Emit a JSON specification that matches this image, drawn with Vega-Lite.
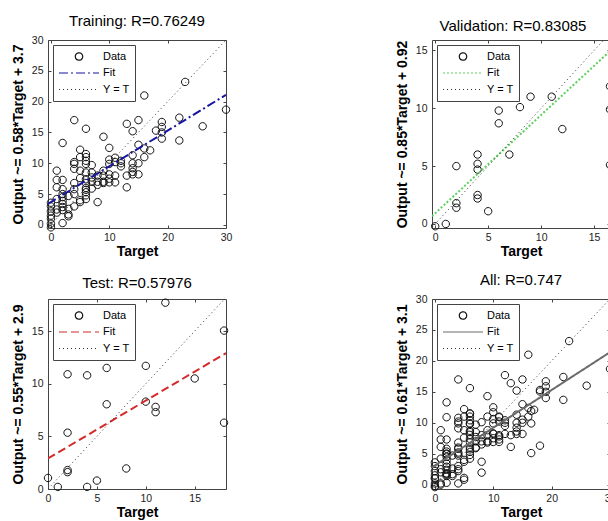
{
  "$schema": "https://vega.github.io/schema/vega-lite/v6.json",
  "background": "white",
  "padding": {"left": 10, "top": 13, "right": 0, "bottom": 0},
  "columns": 2,
  "bounds": "flush",
  "spacing": {"row": 71, "column": 206},
  "datasets": {
    "train": [
      {"t":0,"o":-0.4,"series":"Data"},{"t":0,"o":0.2,"series":"Data"},{"t":0,"o":1.0,"series":"Data"},{"t":0,"o":1.5,"series":"Data"},{"t":0,"o":2.2,"series":"Data"},{"t":0,"o":3.0,"series":"Data"},{"t":0,"o":3.6,"series":"Data"},
      {"t":1,"o":2.0,"series":"Data"},{"t":1,"o":2.5,"series":"Data"},{"t":1,"o":4.2,"series":"Data"},{"t":1,"o":6.1,"series":"Data"},{"t":1,"o":7.3,"series":"Data"},{"t":1,"o":8.8,"series":"Data"},
      {"t":2,"o":0.3,"series":"Data"},{"t":2,"o":2.4,"series":"Data"},{"t":2,"o":2.9,"series":"Data"},{"t":2,"o":3.4,"series":"Data"},{"t":2,"o":3.9,"series":"Data"},{"t":2,"o":4.5,"series":"Data"},{"t":2,"o":5.0,"series":"Data"},{"t":2,"o":5.8,"series":"Data"},{"t":2,"o":7.3,"series":"Data"},{"t":2,"o":13.3,"series":"Data"},
      {"t":3,"o":1.4,"series":"Data"},{"t":3,"o":1.7,"series":"Data"},{"t":3,"o":2.6,"series":"Data"},{"t":3,"o":4.7,"series":"Data"},
      {"t":4,"o":3.0,"series":"Data"},{"t":4,"o":5.0,"series":"Data"},{"t":4,"o":5.8,"series":"Data"},{"t":4,"o":6.8,"series":"Data"},{"t":4,"o":9.1,"series":"Data"},{"t":4,"o":9.9,"series":"Data"},{"t":4,"o":10.2,"series":"Data"},{"t":4,"o":17.0,"series":"Data"},
      {"t":5,"o":3.7,"series":"Data"},{"t":5,"o":4.0,"series":"Data"},{"t":5,"o":7.6,"series":"Data"},{"t":5,"o":8.8,"series":"Data"},{"t":5,"o":11.0,"series":"Data"},{"t":5,"o":12.2,"series":"Data"},
      {"t":6,"o":4.2,"series":"Data"},{"t":6,"o":4.8,"series":"Data"},{"t":6,"o":5.3,"series":"Data"},{"t":6,"o":5.7,"series":"Data"},{"t":6,"o":6.0,"series":"Data"},{"t":6,"o":6.8,"series":"Data"},{"t":6,"o":7.4,"series":"Data"},{"t":6,"o":8.5,"series":"Data"},{"t":6,"o":9.9,"series":"Data"},{"t":6,"o":10.4,"series":"Data"},{"t":6,"o":11.0,"series":"Data"},{"t":6,"o":11.5,"series":"Data"},{"t":6,"o":15.6,"series":"Data"},
      {"t":7,"o":5.9,"series":"Data"},{"t":7,"o":7.0,"series":"Data"},{"t":7,"o":7.7,"series":"Data"},{"t":7,"o":8.5,"series":"Data"},{"t":7,"o":9.7,"series":"Data"},
      {"t":8,"o":3.7,"series":"Data"},{"t":8,"o":6.5,"series":"Data"},{"t":8,"o":7.0,"series":"Data"},{"t":8,"o":8.0,"series":"Data"},
      {"t":9,"o":6.8,"series":"Data"},{"t":9,"o":7.0,"series":"Data"},{"t":9,"o":8.0,"series":"Data"},{"t":9,"o":8.8,"series":"Data"},{"t":9,"o":14.3,"series":"Data"},
      {"t":10,"o":6.9,"series":"Data"},{"t":10,"o":7.5,"series":"Data"},{"t":10,"o":8.2,"series":"Data"},{"t":10,"o":9.9,"series":"Data"},{"t":10,"o":10.6,"series":"Data"},{"t":10,"o":12.5,"series":"Data"},
      {"t":11,"o":6.9,"series":"Data"},{"t":11,"o":8.0,"series":"Data"},{"t":11,"o":10.2,"series":"Data"},{"t":11,"o":10.9,"series":"Data"},
      {"t":12,"o":9.5,"series":"Data"},{"t":12,"o":10.0,"series":"Data"},{"t":12,"o":10.4,"series":"Data"},
      {"t":13,"o":6.1,"series":"Data"},{"t":13,"o":8.0,"series":"Data"},{"t":13,"o":16.4,"series":"Data"},
      {"t":14,"o":8.2,"series":"Data"},{"t":14,"o":8.6,"series":"Data"},{"t":14,"o":9.2,"series":"Data"},{"t":14,"o":10.0,"series":"Data"},{"t":14,"o":11.3,"series":"Data"},{"t":14,"o":15.2,"series":"Data"},
      {"t":15,"o":8.2,"series":"Data"},{"t":15,"o":10.0,"series":"Data"},{"t":15,"o":13.0,"series":"Data"},{"t":15,"o":17.0,"series":"Data"},
      {"t":16,"o":11.0,"series":"Data"},{"t":16,"o":12.4,"series":"Data"},{"t":16,"o":21.0,"series":"Data"},
      {"t":17,"o":12.1,"series":"Data"},{"t":18,"o":15.3,"series":"Data"},
      {"t":19,"o":14.0,"series":"Data"},{"t":19,"o":15.0,"series":"Data"},{"t":19,"o":15.9,"series":"Data"},{"t":19,"o":16.7,"series":"Data"},
      {"t":22,"o":13.7,"series":"Data"},{"t":22,"o":17.4,"series":"Data"},{"t":23,"o":23.2,"series":"Data"},{"t":26,"o":16.0,"series":"Data"},{"t":30,"o":18.7,"series":"Data"},
      {"t":-0.5,"o":3.41,"series":"Fit"},{"t":30,"o":21.1,"series":"Fit"},
      {"t":-0.5,"o":-0.5,"series":"Y = T"},{"t":30,"o":30,"series":"Y = T"}
    ],
    "val": [
      {"t":0,"o":-0.2,"series":"Data"},{"t":1,"o":0.0,"series":"Data"},{"t":2,"o":5.0,"series":"Data"},{"t":2,"o":1.8,"series":"Data"},{"t":2,"o":1.4,"series":"Data"},
      {"t":4,"o":6.0,"series":"Data"},{"t":4,"o":5.2,"series":"Data"},{"t":4,"o":4.7,"series":"Data"},{"t":4,"o":2.5,"series":"Data"},{"t":4,"o":2.2,"series":"Data"},
      {"t":5,"o":1.1,"series":"Data"},{"t":6,"o":9.8,"series":"Data"},{"t":6,"o":8.7,"series":"Data"},{"t":7,"o":6.0,"series":"Data"},{"t":8,"o":10.1,"series":"Data"},
      {"t":9,"o":11.0,"series":"Data"},{"t":11,"o":11.0,"series":"Data"},{"t":12,"o":8.2,"series":"Data"},
      {"t":16.5,"o":11.9,"series":"Data"},{"t":16.5,"o":9.9,"series":"Data"},{"t":16.5,"o":5.1,"series":"Data"},
      {"t":-0.3,"o":0.665,"series":"Fit"},{"t":16.5,"o":14.945,"series":"Fit"},
      {"t":-0.3,"o":-0.3,"series":"Y = T"},{"t":16.5,"o":16.5,"series":"Y = T"}
    ],
    "test": [
      {"t":0,"o":1.05,"series":"Data"},{"t":1,"o":0.2,"series":"Data"},{"t":2,"o":10.9,"series":"Data"},{"t":2,"o":5.35,"series":"Data"},{"t":2,"o":1.8,"series":"Data"},{"t":2,"o":1.6,"series":"Data"},
      {"t":4,"o":10.8,"series":"Data"},{"t":4,"o":0.2,"series":"Data"},{"t":5,"o":0.8,"series":"Data"},{"t":6,"o":11.5,"series":"Data"},{"t":6,"o":8.05,"series":"Data"},
      {"t":8,"o":1.95,"series":"Data"},{"t":10,"o":11.7,"series":"Data"},{"t":10,"o":8.3,"series":"Data"},{"t":11,"o":7.8,"series":"Data"},{"t":11,"o":7.3,"series":"Data"},
      {"t":12,"o":17.7,"series":"Data"},{"t":15,"o":10.5,"series":"Data"},{"t":18,"o":15.05,"series":"Data"},{"t":18,"o":6.3,"series":"Data"},
      {"t":0,"o":2.9,"series":"Fit"},{"t":18.2,"o":12.91,"series":"Fit"},
      {"t":0,"o":0,"series":"Y = T"},{"t":18.2,"o":18.2,"series":"Y = T"}
    ],
    "all": [
      {"t":0,"o":-0.4,"series":"Data"},{"t":0,"o":0.2,"series":"Data"},{"t":0,"o":1.0,"series":"Data"},{"t":0,"o":1.5,"series":"Data"},{"t":0,"o":2.2,"series":"Data"},{"t":0,"o":3.0,"series":"Data"},{"t":0,"o":3.6,"series":"Data"},
      {"t":1,"o":2.0,"series":"Data"},{"t":1,"o":2.5,"series":"Data"},{"t":1,"o":4.2,"series":"Data"},{"t":1,"o":6.1,"series":"Data"},{"t":1,"o":7.3,"series":"Data"},{"t":1,"o":8.8,"series":"Data"},
      {"t":2,"o":0.3,"series":"Data"},{"t":2,"o":2.4,"series":"Data"},{"t":2,"o":2.9,"series":"Data"},{"t":2,"o":3.4,"series":"Data"},{"t":2,"o":3.9,"series":"Data"},{"t":2,"o":4.5,"series":"Data"},{"t":2,"o":5.0,"series":"Data"},{"t":2,"o":5.8,"series":"Data"},{"t":2,"o":7.3,"series":"Data"},{"t":2,"o":13.3,"series":"Data"},
      {"t":3,"o":1.4,"series":"Data"},{"t":3,"o":1.7,"series":"Data"},{"t":3,"o":2.6,"series":"Data"},{"t":3,"o":4.7,"series":"Data"},
      {"t":4,"o":3.0,"series":"Data"},{"t":4,"o":5.0,"series":"Data"},{"t":4,"o":5.8,"series":"Data"},{"t":4,"o":6.8,"series":"Data"},{"t":4,"o":9.1,"series":"Data"},{"t":4,"o":9.9,"series":"Data"},{"t":4,"o":10.2,"series":"Data"},{"t":4,"o":17.0,"series":"Data"},
      {"t":5,"o":3.7,"series":"Data"},{"t":5,"o":4.0,"series":"Data"},{"t":5,"o":7.6,"series":"Data"},{"t":5,"o":8.8,"series":"Data"},{"t":5,"o":11.0,"series":"Data"},{"t":5,"o":12.2,"series":"Data"},
      {"t":6,"o":4.2,"series":"Data"},{"t":6,"o":4.8,"series":"Data"},{"t":6,"o":5.3,"series":"Data"},{"t":6,"o":5.7,"series":"Data"},{"t":6,"o":6.0,"series":"Data"},{"t":6,"o":6.8,"series":"Data"},{"t":6,"o":7.4,"series":"Data"},{"t":6,"o":8.5,"series":"Data"},{"t":6,"o":9.9,"series":"Data"},{"t":6,"o":10.4,"series":"Data"},{"t":6,"o":11.0,"series":"Data"},{"t":6,"o":11.5,"series":"Data"},{"t":6,"o":15.6,"series":"Data"},
      {"t":7,"o":5.9,"series":"Data"},{"t":7,"o":7.0,"series":"Data"},{"t":7,"o":7.7,"series":"Data"},{"t":7,"o":8.5,"series":"Data"},{"t":7,"o":9.7,"series":"Data"},
      {"t":8,"o":3.7,"series":"Data"},{"t":8,"o":6.5,"series":"Data"},{"t":8,"o":7.0,"series":"Data"},{"t":8,"o":8.0,"series":"Data"},
      {"t":9,"o":6.8,"series":"Data"},{"t":9,"o":7.0,"series":"Data"},{"t":9,"o":8.0,"series":"Data"},{"t":9,"o":8.8,"series":"Data"},{"t":9,"o":14.3,"series":"Data"},
      {"t":10,"o":6.9,"series":"Data"},{"t":10,"o":7.5,"series":"Data"},{"t":10,"o":8.2,"series":"Data"},{"t":10,"o":9.9,"series":"Data"},{"t":10,"o":10.6,"series":"Data"},{"t":10,"o":12.5,"series":"Data"},
      {"t":11,"o":6.9,"series":"Data"},{"t":11,"o":8.0,"series":"Data"},{"t":11,"o":10.2,"series":"Data"},{"t":11,"o":10.9,"series":"Data"},
      {"t":12,"o":9.5,"series":"Data"},{"t":12,"o":10.0,"series":"Data"},{"t":12,"o":10.4,"series":"Data"},
      {"t":13,"o":6.1,"series":"Data"},{"t":13,"o":8.0,"series":"Data"},{"t":13,"o":16.4,"series":"Data"},
      {"t":14,"o":8.2,"series":"Data"},{"t":14,"o":8.6,"series":"Data"},{"t":14,"o":9.2,"series":"Data"},{"t":14,"o":10.0,"series":"Data"},{"t":14,"o":11.3,"series":"Data"},{"t":14,"o":15.2,"series":"Data"},
      {"t":15,"o":8.2,"series":"Data"},{"t":15,"o":10.0,"series":"Data"},{"t":15,"o":13.0,"series":"Data"},{"t":15,"o":17.0,"series":"Data"},
      {"t":16,"o":11.0,"series":"Data"},{"t":16,"o":12.4,"series":"Data"},{"t":16,"o":21.0,"series":"Data"},
      {"t":17,"o":12.1,"series":"Data"},{"t":18,"o":15.3,"series":"Data"},
      {"t":19,"o":14.0,"series":"Data"},{"t":19,"o":15.0,"series":"Data"},{"t":19,"o":15.9,"series":"Data"},{"t":19,"o":16.7,"series":"Data"},
      {"t":22,"o":13.7,"series":"Data"},{"t":22,"o":17.4,"series":"Data"},{"t":23,"o":23.2,"series":"Data"},{"t":26,"o":16.0,"series":"Data"},{"t":30,"o":18.7,"series":"Data"},
      {"t":0,"o":-0.2,"series":"Data"},{"t":1,"o":0.0,"series":"Data"},{"t":2,"o":5.0,"series":"Data"},{"t":2,"o":1.8,"series":"Data"},{"t":2,"o":1.4,"series":"Data"},
      {"t":4,"o":6.0,"series":"Data"},{"t":4,"o":5.2,"series":"Data"},{"t":4,"o":4.7,"series":"Data"},{"t":4,"o":2.5,"series":"Data"},{"t":4,"o":2.2,"series":"Data"},
      {"t":5,"o":1.1,"series":"Data"},{"t":6,"o":9.8,"series":"Data"},{"t":6,"o":8.7,"series":"Data"},{"t":7,"o":6.0,"series":"Data"},{"t":8,"o":10.1,"series":"Data"},
      {"t":9,"o":11.0,"series":"Data"},{"t":11,"o":11.0,"series":"Data"},{"t":12,"o":8.2,"series":"Data"},
      {"t":16.5,"o":11.9,"series":"Data"},{"t":16.5,"o":9.9,"series":"Data"},{"t":16.5,"o":5.1,"series":"Data"},
      {"t":0,"o":1.05,"series":"Data"},{"t":1,"o":0.2,"series":"Data"},{"t":2,"o":10.9,"series":"Data"},{"t":2,"o":5.35,"series":"Data"},{"t":2,"o":1.8,"series":"Data"},{"t":2,"o":1.6,"series":"Data"},
      {"t":4,"o":10.8,"series":"Data"},{"t":4,"o":0.2,"series":"Data"},{"t":5,"o":0.8,"series":"Data"},{"t":6,"o":11.5,"series":"Data"},{"t":6,"o":8.05,"series":"Data"},
      {"t":8,"o":1.95,"series":"Data"},{"t":10,"o":11.7,"series":"Data"},{"t":10,"o":8.3,"series":"Data"},{"t":11,"o":7.8,"series":"Data"},{"t":11,"o":7.3,"series":"Data"},
      {"t":12,"o":17.7,"series":"Data"},{"t":15,"o":10.5,"series":"Data"},{"t":18,"o":15.05,"series":"Data"},{"t":18,"o":6.3,"series":"Data"},
      {"t":-0.5,"o":2.795,"series":"Fit"},{"t":30,"o":21.4,"series":"Fit"},
      {"t":-0.5,"o":-0.5,"series":"Y = T"},{"t":30,"o":30,"series":"Y = T"}
    ]
  },
  "concat": [
    {
      "width": 178, "height": 188,
      "title": {"text": "Training: R=0.76249"},
      "data": {"name": "train"},
      "resolve": {"axis": {"x": "independent", "y": "independent"}},
      "layer": [
        {
          "transform": [{"filter": "datum.series === 'Data'"}],
          "mark": {"type": "point", "filled": false, "size": 1600, "strokeWidth": 1, "opacity": 1},
          "encoding": {
            "x": {"field": "t", "type": "quantitative", "scale": {"domain": [-0.5, 30], "nice": false, "zero": false}, "axis": {"values": [0, 10, 20, 30], "title": "Target"}},
            "y": {"field": "o", "type": "quantitative", "scale": {"domain": [-0.5, 30], "nice": false, "zero": false}, "axis": {"values": [0, 5, 10, 15, 20, 25, 30], "title": "Output ~= 0.58*Target + 3.7"}},
            "color": {"field": "series", "type": "nominal", "scale": {"domain": ["Data", "Fit", "Y = T"], "range": ["#111111", "#1515a0", "#333333"]}, "legend": {"title": null}},
            "shape": {"field": "series", "type": "nominal", "scale": {"domain": ["Data", "Fit", "Y = T"], "range": ["M-0.185,0A0.185,0.185,0,1,1,0.185,0A0.185,0.185,0,1,1,-0.185,0Z", "stroke", "stroke"]}, "legend": {"title": null}}
          }
        },
        {
          "transform": [{"filter": "datum.series === 'Fit'"}],
          "mark": {"type": "line", "strokeWidth": 2, "clip": true},
          "encoding": {
            "x": {"field": "t", "type": "quantitative", "axis": null},
            "y": {"field": "o", "type": "quantitative", "axis": null},
            "color": {"field": "series", "type": "nominal", "scale": {"domain": ["Data", "Fit", "Y = T"], "range": ["#111111", "#1515a0", "#333333"]}, "legend": {"title": null}},
            "strokeDash": {"field": "series", "type": "nominal", "scale": {"domain": ["Data", "Fit", "Y = T"], "range": [[1, 0], [9, 3, 2, 3], [1, 3]]}, "legend": {"title": null}}
          }
        },
        {
          "transform": [{"filter": "datum.series === 'Y = T'"}],
          "mark": {"type": "line", "strokeWidth": 1, "clip": true},
          "encoding": {
            "x": {"field": "t", "type": "quantitative", "axis": {"orient": "top", "labels": false, "title": null, "values": [0, 10, 20, 30]}},
            "y": {"field": "o", "type": "quantitative", "axis": {"orient": "right", "labels": false, "title": null, "values": [0, 5, 10, 15, 20, 25, 30]}},
            "color": {"field": "series", "type": "nominal", "scale": {"domain": ["Data", "Fit", "Y = T"], "range": ["#111111", "#1515a0", "#333333"]}, "legend": {"title": null}},
            "strokeDash": {"field": "series", "type": "nominal", "scale": {"domain": ["Data", "Fit", "Y = T"], "range": [[1, 0], [9, 3, 2, 3], [1, 3]]}, "legend": {"title": null}}
          }
        }
      ]
    },
    {
      "width": 178, "height": 188,
      "title": {"text": "Validation: R=0.83085", "dx": -8},
      "data": {"name": "val"},
      "resolve": {"axis": {"x": "independent", "y": "independent"}},
      "layer": [
        {
          "transform": [{"filter": "datum.series === 'Data'"}],
          "mark": {"type": "point", "filled": false, "size": 1600, "strokeWidth": 1, "opacity": 1},
          "encoding": {
            "x": {"field": "t", "type": "quantitative", "scale": {"domain": [-0.3, 16.5], "nice": false, "zero": false}, "axis": {"values": [0, 5, 10, 15], "title": "Target"}},
            "y": {"field": "o", "type": "quantitative", "scale": {"domain": [-0.35, 15.9], "nice": false, "zero": false}, "axis": {"values": [0, 5, 10, 15], "title": "Output ~= 0.85*Target + 0.92"}},
            "color": {"field": "series", "type": "nominal", "scale": {"domain": ["Data", "Fit", "Y = T"], "range": ["#111111", "#5ccf5c", "#333333"]}, "legend": {"title": null}},
            "shape": {"field": "series", "type": "nominal", "scale": {"domain": ["Data", "Fit", "Y = T"], "range": ["M-0.185,0A0.185,0.185,0,1,1,0.185,0A0.185,0.185,0,1,1,-0.185,0Z", "stroke", "stroke"]}, "legend": {"title": null}}
          }
        },
        {
          "transform": [{"filter": "datum.series === 'Fit'"}],
          "mark": {"type": "line", "strokeWidth": 2, "clip": true},
          "encoding": {
            "x": {"field": "t", "type": "quantitative", "axis": null},
            "y": {"field": "o", "type": "quantitative", "axis": null},
            "color": {"field": "series", "type": "nominal", "scale": {"domain": ["Data", "Fit", "Y = T"], "range": ["#111111", "#5ccf5c", "#333333"]}, "legend": {"title": null}},
            "strokeDash": {"field": "series", "type": "nominal", "scale": {"domain": ["Data", "Fit", "Y = T"], "range": [[1, 0], [2, 2], [1, 3]]}, "legend": {"title": null}}
          }
        },
        {
          "transform": [{"filter": "datum.series === 'Y = T'"}],
          "mark": {"type": "line", "strokeWidth": 1, "clip": true},
          "encoding": {
            "x": {"field": "t", "type": "quantitative", "axis": {"orient": "top", "labels": false, "title": null, "values": [0, 5, 10, 15]}},
            "y": {"field": "o", "type": "quantitative", "axis": {"orient": "right", "labels": false, "title": null, "values": [0, 5, 10, 15]}},
            "color": {"field": "series", "type": "nominal", "scale": {"domain": ["Data", "Fit", "Y = T"], "range": ["#111111", "#5ccf5c", "#333333"]}, "legend": {"title": null}},
            "strokeDash": {"field": "series", "type": "nominal", "scale": {"domain": ["Data", "Fit", "Y = T"], "range": [[1, 0], [2, 2], [1, 3]]}, "legend": {"title": null}}
          }
        }
      ]
    },
    {
      "width": 178, "height": 190,
      "title": {"text": "Test: R=0.57976"},
      "data": {"name": "test"},
      "resolve": {"axis": {"x": "independent", "y": "independent"}},
      "layer": [
        {
          "transform": [{"filter": "datum.series === 'Data'"}],
          "mark": {"type": "point", "filled": false, "size": 1600, "strokeWidth": 1, "opacity": 1},
          "encoding": {
            "x": {"field": "t", "type": "quantitative", "scale": {"domain": [0, 18.2], "nice": false, "zero": false}, "axis": {"values": [0, 5, 10, 15], "title": "Target"}},
            "y": {"field": "o", "type": "quantitative", "scale": {"domain": [0, 18.05], "nice": false, "zero": false}, "axis": {"values": [0, 5, 10, 15], "title": "Output ~= 0.55*Target + 2.9"}},
            "color": {"field": "series", "type": "nominal", "scale": {"domain": ["Data", "Fit", "Y = T"], "range": ["#111111", "#d42a2a", "#333333"]}, "legend": {"title": null}},
            "shape": {"field": "series", "type": "nominal", "scale": {"domain": ["Data", "Fit", "Y = T"], "range": ["M-0.185,0A0.185,0.185,0,1,1,0.185,0A0.185,0.185,0,1,1,-0.185,0Z", "stroke", "stroke"]}, "legend": {"title": null}}
          }
        },
        {
          "transform": [{"filter": "datum.series === 'Fit'"}],
          "mark": {"type": "line", "strokeWidth": 2, "clip": true},
          "encoding": {
            "x": {"field": "t", "type": "quantitative", "axis": null},
            "y": {"field": "o", "type": "quantitative", "axis": null},
            "color": {"field": "series", "type": "nominal", "scale": {"domain": ["Data", "Fit", "Y = T"], "range": ["#111111", "#d42a2a", "#333333"]}, "legend": {"title": null}},
            "strokeDash": {"field": "series", "type": "nominal", "scale": {"domain": ["Data", "Fit", "Y = T"], "range": [[1, 0], [8, 4], [1, 3]]}, "legend": {"title": null}}
          }
        },
        {
          "transform": [{"filter": "datum.series === 'Y = T'"}],
          "mark": {"type": "line", "strokeWidth": 1, "clip": true},
          "encoding": {
            "x": {"field": "t", "type": "quantitative", "axis": {"orient": "top", "labels": false, "title": null, "values": [0, 5, 10, 15]}},
            "y": {"field": "o", "type": "quantitative", "axis": {"orient": "right", "labels": false, "title": null, "values": [0, 5, 10, 15]}},
            "color": {"field": "series", "type": "nominal", "scale": {"domain": ["Data", "Fit", "Y = T"], "range": ["#111111", "#d42a2a", "#333333"]}, "legend": {"title": null}},
            "strokeDash": {"field": "series", "type": "nominal", "scale": {"domain": ["Data", "Fit", "Y = T"], "range": [[1, 0], [8, 4], [1, 3]]}, "legend": {"title": null}}
          }
        }
      ]
    },
    {
      "width": 178, "height": 190,
      "title": {"text": "All: R=0.747"},
      "data": {"name": "all"},
      "resolve": {"axis": {"x": "independent", "y": "independent"}},
      "layer": [
        {
          "transform": [{"filter": "datum.series === 'Data'"}],
          "mark": {"type": "point", "filled": false, "size": 1600, "strokeWidth": 1, "opacity": 1},
          "encoding": {
            "x": {"field": "t", "type": "quantitative", "scale": {"domain": [-0.5, 30], "nice": false, "zero": false}, "axis": {"values": [0, 10, 20, 30], "title": "Target"}},
            "y": {"field": "o", "type": "quantitative", "scale": {"domain": [-0.7, 30], "nice": false, "zero": false}, "axis": {"values": [0, 5, 10, 15, 20, 25, 30], "title": "Output ~= 0.61*Target + 3.1"}},
            "color": {"field": "series", "type": "nominal", "scale": {"domain": ["Data", "Fit", "Y = T"], "range": ["#111111", "#6b6b6b", "#333333"]}, "legend": {"title": null}},
            "shape": {"field": "series", "type": "nominal", "scale": {"domain": ["Data", "Fit", "Y = T"], "range": ["M-0.185,0A0.185,0.185,0,1,1,0.185,0A0.185,0.185,0,1,1,-0.185,0Z", "stroke", "stroke"]}, "legend": {"title": null}}
          }
        },
        {
          "transform": [{"filter": "datum.series === 'Fit'"}],
          "mark": {"type": "line", "strokeWidth": 2, "clip": true},
          "encoding": {
            "x": {"field": "t", "type": "quantitative", "axis": null},
            "y": {"field": "o", "type": "quantitative", "axis": null},
            "color": {"field": "series", "type": "nominal", "scale": {"domain": ["Data", "Fit", "Y = T"], "range": ["#111111", "#6b6b6b", "#333333"]}, "legend": {"title": null}},
            "strokeDash": {"field": "series", "type": "nominal", "scale": {"domain": ["Data", "Fit", "Y = T"], "range": [[1, 0], [1, 0], [1, 3]]}, "legend": {"title": null}}
          }
        },
        {
          "transform": [{"filter": "datum.series === 'Y = T'"}],
          "mark": {"type": "line", "strokeWidth": 1, "clip": true},
          "encoding": {
            "x": {"field": "t", "type": "quantitative", "axis": {"orient": "top", "labels": false, "title": null, "values": [0, 10, 20, 30]}},
            "y": {"field": "o", "type": "quantitative", "axis": {"orient": "right", "labels": false, "title": null, "values": [0, 5, 10, 15, 20, 25, 30]}},
            "color": {"field": "series", "type": "nominal", "scale": {"domain": ["Data", "Fit", "Y = T"], "range": ["#111111", "#6b6b6b", "#333333"]}, "legend": {"title": null}},
            "strokeDash": {"field": "series", "type": "nominal", "scale": {"domain": ["Data", "Fit", "Y = T"], "range": [[1, 0], [1, 0], [1, 3]]}, "legend": {"title": null}}
          }
        }
      ]
    }
  ],
  "resolve": {
    "scale": {"x": "independent", "y": "independent", "color": "independent", "shape": "independent", "strokeDash": "independent"},
    "legend": {"color": "independent", "shape": "independent", "strokeDash": "independent"}
  },
  "config": {
    "font": "Liberation Sans",
    "view": {"stroke": "#444444", "strokeWidth": 1},
    "axis": {
      "grid": false, "domain": false, "tickSize": -3, "tickColor": "#444444", "tickWidth": 1,
      "labelFont": "Liberation Sans", "labelFontSize": 10.5, "labelColor": "#222222", "labelPadding": 8,
      "labelFlush": false, "labelOverlap": false,
      "titleFont": "Liberation Sans", "titleFontSize": 14, "titleFontWeight": "bold", "titleColor": "#000000"
    },
    "axisY": {"titlePadding": 6},
    "axisX": {"titlePadding": 2, "labelPadding": 7},
    "title": {"font": "Liberation Sans", "fontSize": 15, "fontWeight": "normal", "color": "#000000", "offset": 6, "anchor": "middle"},
    "legend": {
      "orient": "top-left", "offset": 5, "padding": 5, "strokeColor": "#444444", "fillColor": "white", "cornerRadius": 0,
      "labelFont": "Liberation Sans", "labelFontSize": 11, "labelColor": "#000000", "labelOffset": 3,
      "symbolSize": 1600, "clipHeight": 13, "rowPadding": 3.5, "symbolStrokeWidth": 1.2
    }
  }
}
